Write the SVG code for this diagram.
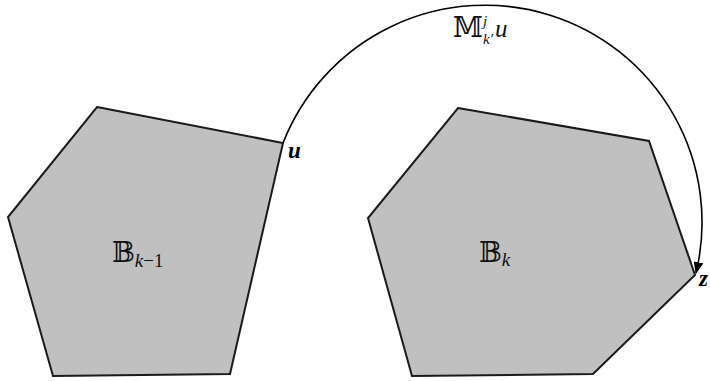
<svg xmlns="http://www.w3.org/2000/svg" width="710" height="381" viewBox="0 0 710 381">
<style>
.poly{fill:#c0c0c0;stroke:#1a1a1a;stroke-width:2;stroke-linejoin:miter}
.conn{fill:none;stroke:#000;stroke-width:1.6}
.bb{font-family:"DejaVu Serif","DejaVu Sans",serif;font-size:27px;fill:#111}
.it{font-family:"Liberation Serif","DejaVu Serif",serif;font-style:italic;fill:#111}
.bi{font-family:"Liberation Serif","DejaVu Serif",serif;font-style:italic;font-weight:bold;font-size:23px;fill:#000}
</style>
<defs>
<marker id="arr" markerWidth="12" markerHeight="10" refX="11" refY="5" orient="auto" markerUnits="userSpaceOnUse">
<path d="M0,0 L12,5 L0,10 Z" fill="#000"/>
</marker>
</defs>
<rect width="710" height="381" fill="#fff"/>
<g id="node-bk1">
<polygon class="poly" points="97,107 283,143 230,374 53,376 8,217"/>
<text class="bb" x="112" y="262">𝔹<tspan class="it" font-size="19" dy="5">k</tspan><tspan font-family="Liberation Serif,serif" font-size="19" dy="0">−1</tspan></text>
</g>
<g id="node-bk">
<polygon class="poly" points="458,108 649,141 695,275 593,374 412,376 368,218"/>
<text class="bb" x="479" y="262">𝔹<tspan class="it" font-size="19" dy="4">k</tspan></text>
</g>
<g id="connectors">
<path class="conn" d="M283,143 A217,217 0 0 1 696,273" marker-end="url(#arr)"/>
</g>
<g id="labels">
<text class="bb" x="453" y="37">𝕄<tspan class="it" font-size="15" dy="-11">j</tspan><tspan class="it" font-size="15" dx="-4" dy="18">k′</tspan><tspan class="it" font-size="25" dx="2" dy="-7">u</tspan></text>
<text class="bi" x="288" y="158">u</text>
<text class="bi" x="699" y="286">z</text>
</g>
</svg>
